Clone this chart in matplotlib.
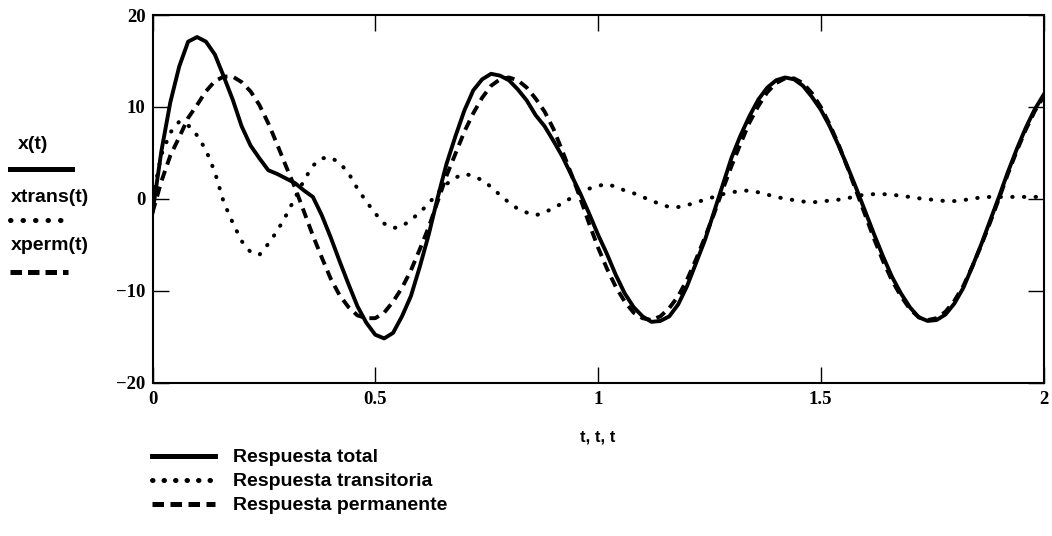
import matplotlib.pyplot as plt
from matplotlib.lines import Line2D
import numpy as np

# tiempo de muestreo (0 .. 2 s, paso 0.02)
t = np.linspace(0, 2, 101)

# respuesta total x(t)
x_total = [-1.5, 5.2, 10.5, 14.4, 17.1, 17.6, 17.1, 15.7, 13.3, 10.8,
           7.9, 5.8, 4.4, 3.1, 2.7, 2.2, 1.7, 0.9, 0.2, -1.8,
           -4.2, -6.8, -9.3, -11.7, -13.5, -14.8, -15.2, -14.6, -12.8, -10.6,
           -7.4, -3.9, 0.1, 3.8, 6.8, 9.6, 11.8, 13.0, 13.6, 13.4,
           12.9, 11.9, 10.7, 9.1, 7.9, 6.3, 4.6, 2.6, 0.6, -1.6,
           -3.9, -6.0, -8.3, -10.3, -11.8, -12.8, -13.4, -13.3, -12.8, -11.5,
           -9.5, -7.0, -4.5, -1.5, 1.5, 4.5, 6.9, 9.0, 10.8, 12.1,
           12.9, 13.2, 13.0, 12.3, 11.1, 9.7, 7.9, 5.8, 3.5, 1.1,
           -1.4, -3.9, -6.3, -8.5, -10.3, -11.8, -12.9, -13.3, -13.2, -12.6,
           -11.4, -9.7, -7.4, -5.0, -2.4, 0.2, 2.9, 5.4, 7.7, 9.7,
           11.3]

# respuesta transitoria xtrans(t)
x_trans = [0.0, 4.8, 7.2, 8.4, 8.0, 6.9, 5.3, 2.9, -0.4, -2.6,
           -4.6, -5.8, -6.1, -4.9, -3.5, -1.8, 0.1, 2.0, 3.6, 4.4,
           4.5, 3.9, 2.8, 1.1, -0.3, -1.6, -2.7, -3.2, -3.0, -2.3,
           -1.5, -0.5, 0.6, 1.6, 2.3, 2.7, 2.5, 2.0, 1.3, 0.4,
           -0.4, -1.1, -1.5, -1.8, -1.5, -1.0, -0.5, 0.1, 0.7, 1.1,
           1.4, 1.6, 1.3, 0.9, 0.6, 0.2, -0.2, -0.6, -0.9, -0.9,
           -0.7, -0.4, -0.1, 0.2, 0.5, 0.7, 0.85, 0.9, 0.7, 0.45,
           0.2, 0.0, -0.15, -0.3, -0.4, -0.3, -0.2, -0.1, 0.05, 0.3,
           0.45, 0.5, 0.5, 0.45, 0.3, 0.2, 0.05, -0.05, -0.15, -0.25,
           -0.25, -0.15, 0.0, 0.15, 0.2, 0.2, 0.2, 0.2, 0.2, 0.2,
           0.2]

# respuesta permanente xperm(t)
x_perm = [-1.5, 1.9, 4.7, 6.7, 8.8, 10.2, 11.7, 12.8, 13.3, 13.3,
          12.7, 11.7, 10.2, 8.2, 5.9, 3.5, 1.2, -1.4, -4.0, -6.4,
          -8.7, -10.5, -11.8, -12.7, -13.0, -13.0, -12.4, -11.2, -9.7, -7.8,
          -5.5, -3.1, -0.3, 2.5, 4.9, 7.3, 9.3, 11.0, 12.3, 13.0,
          13.2, 12.9, 12.1, 10.9, 9.5, 7.6, 5.2, 2.7, 0.1, -2.7,
          -5.3, -7.6, -9.6, -11.2, -12.4, -13.0, -13.2, -12.8, -11.9, -10.6,
          -8.8, -6.6, -4.2, -1.7, 1.0, 3.6, 6.0, 8.3, 10.1, 11.6,
          12.6, 13.1, 13.1, 12.6, 11.5, 10.0, 8.1, 5.9, 3.4, 0.8,
          -1.8, -4.4, -6.8, -8.9, -10.6, -12.0, -12.9, -13.2, -13.0, -12.3,
          -11.1, -9.5, -7.4, -5.1, -2.6, 0.0, 2.7, 5.2, 7.5, 9.5,
          11.1]

xticks = [0, 0.5, 1, 1.5, 2]
xtick_labels = ['0', '0.5', '1', '1.5', '2']
yticks = [-20, -10, 0, 10, 20]
ytick_labels = ['\u221220', '\u221210', '0', '10', '20']

var_names = ['x(t)', 'xtrans(t)', 'xperm(t)']
leyenda = ['Respuesta total', 'Respuesta transitoria', 'Respuesta permanente']

# estilos de las curvas
estilos = [
    dict(color='black', lw=2.8, linestyle='-'),
    dict(color='black', lw=2.9, linestyle=(0, (0.1, 2.8)), dash_capstyle='round'),
    dict(color='black', lw=2.8, linestyle=(0, (2.6, 1.7)), dash_capstyle='butt'),
]
# estilos de las muestras (leyendas), algo mas gruesas
est_izq = [
    dict(color='black', lw=3.6, linestyle='-'),
    dict(color='black', lw=3.6, linestyle=(0, (0.1, 2.4)), dash_capstyle='round'),
    dict(color='black', lw=3.6, linestyle=(0, (2.3, 1.2)), dash_capstyle='butt'),
]
est_inf = [
    dict(color='black', lw=3.6, linestyle='-'),
    dict(color='black', lw=3.6, linestyle=(0, (0.1, 2.2)), dash_capstyle='round'),
    dict(color='black', lw=3.6, linestyle=(0, (2.3, 1.3)), dash_capstyle='butt'),
]

W, H = 1052, 536
fig = plt.figure(figsize=(W / 100, H / 100), dpi=100)
ax = fig.add_axes([152.5 / W, 1 - 382.5 / H, 891 / W, 367.5 / H])

for serie, st in zip([x_total, x_trans, x_perm], estilos):
    ax.plot(t, serie, **st)

ax.set_xlim(0, 2)
ax.set_ylim(-20, 20)
ax.set_xticks(xticks)
ax.set_xticklabels(xtick_labels)
ax.set_yticks(yticks)
ax.set_yticklabels(ytick_labels)
ax.tick_params(direction='in', top=True, right=True, length=11.5, width=1.0)
ax.tick_params(axis='x', pad=6)
ax.tick_params(axis='y', pad=5)
for lab in ax.get_xticklabels() + ax.get_yticklabels():
    lab.set_fontfamily('Liberation Serif')
    lab.set_fontweight('bold')
    lab.set_fontsize(13.5)
for sp in ax.spines.values():
    sp.set_linewidth(1.5)

fig.text(598 / W, 1 - 437 / H, 't, t, t', ha='center', va='center',
         fontfamily='Liberation Sans', fontweight='bold', fontsize=12)

# etiquetas del eje y (estilo Mathcad)
y_txt = [145, 197, 245]
y_lin = [169, 220, 272]
x_fin = [72, 66, 68]
for nombre, st, yt, yl, xf in zip(var_names, est_izq, y_txt, y_lin, x_fin):
    fig.text((18 if nombre == 'x(t)' else 11) / W, 1 - yt / H, nombre,
             ha='left', va='center',
             fontfamily='Liberation Sans', fontweight='bold', fontsize=14)
    fig.add_artist(Line2D([10 / W, xf / W], [1 - yl / H, 1 - yl / H],
                          transform=fig.transFigure, **st))

# leyenda inferior
for i, (texto, st) in enumerate(zip(leyenda, est_inf)):
    yl = 456 + 24 * i
    fig.add_artist(Line2D([152 / W, 215 / W], [1 - yl / H, 1 - yl / H],
                          transform=fig.transFigure, **st))
    fig.text(233 / W, 1 - (yl + 2) / H, texto, ha='left', va='center',
             fontfamily='Liberation Sans', fontweight='bold', fontsize=14)

fig.savefig('out.png', dpi=100)
